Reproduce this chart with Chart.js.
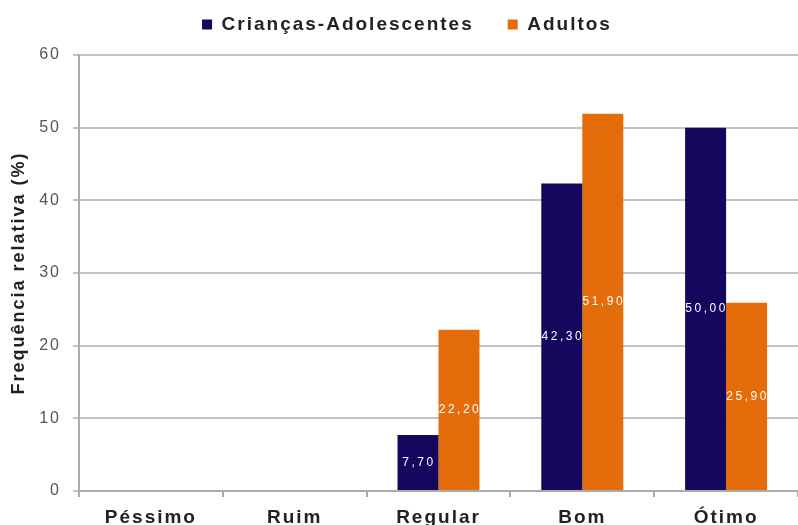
<!DOCTYPE html>
<html>
<head>
<meta charset="utf-8">
<script src="https://cdn.jsdelivr.net/npm/chart.js@4"></script>
<style>
  html, body { margin: 0; padding: 0; background: #fff; }
  #wrap { width: 798px; height: 525px; }
</style>
</head>
<body>
<div id="wrap"><canvas id="grafico" width="798" height="525"></canvas></div>
<script>
// categorias e valores (%)
const categorias = ['Péssimo', 'Ruim', 'Regular', 'Bom', 'Ótimo'];
const criancas = [0, 0, 7.7, 42.3, 50.0];
const adultos = [0, 0, 22.2, 51.9, 25.9];
const yTicks = [0, 10, 20, 30, 40, 50, 60];

const fonte = '"Liberation Sans", Arial, sans-serif';

// texto espaçado como no original; legenda com altura fixa e itens mais afastados
const espacamento = {
    id: 'espacamento',
    afterInit(chart) {
        const leg = chart.legend;
        const fitOrig = leg.fit;
        leg.fit = function() {
            fitOrig.call(this);
            this.height = 55;
        };
        const drawOrig = leg.draw;
        leg.draw = function() {
            this.ctx.save();
            this.ctx.translate(8, -19);
            drawOrig.call(this);
            this.ctx.restore();
        };
    },
    beforeUpdate(chart) { chart.ctx.letterSpacing = '2px'; },
    beforeLayout(chart) { chart.ctx.letterSpacing = '2px'; },
    beforeDraw(chart) { chart.ctx.letterSpacing = '2px'; }
};

// rótulos brancos no meio de cada barra
const rotulosBarras = {
    id: 'rotulosBarras',
    afterDatasetsDraw(chart) {
        const ctx = chart.ctx;
        ctx.save();
        ctx.letterSpacing = '2.5px';
        ctx.font = '12px ' + fonte;
        ctx.fillStyle = '#ffffff';
        ctx.textAlign = 'center';
        ctx.textBaseline = 'middle';
        chart.data.datasets.forEach((ds, i) => {
            chart.getDatasetMeta(i).data.forEach((bar, j) => {
                const v = ds.data[j];
                if (!v) return;
                const y = (bar.y + bar.base) / 2;
                ctx.fillText(v.toFixed(2).replace('.', ','), bar.x + 1, y);
            });
        });
        ctx.restore();
    }
};

const ctx = document.getElementById('grafico').getContext('2d');
new Chart(ctx, {
    type: 'bar',
    data: {
        labels: categorias,
        datasets: [
            {
                label: 'Crianças-Adolescentes',
                data: criancas,
                backgroundColor: '#13085e',
                categoryPercentage: 0.57,
                barPercentage: 1.0
            },
            {
                label: 'Adultos',
                data: adultos,
                backgroundColor: '#e46c0a',
                categoryPercentage: 0.57,
                barPercentage: 1.0
            }
        ]
    },
    options: {
        responsive: false,
        animation: false,
        layout: { padding: 0 },
        plugins: {
            tooltip: { enabled: false },
            legend: {
                position: 'top',
                labels: {
                    boxWidth: 10,
                    boxHeight: 10,
                    padding: 34,
                    color: '#222',
                    font: { family: fonte, size: 19, weight: 'bold' }
                }
            }
        },
        scales: {
            x: {
                grid: {
                    drawOnChartArea: false,
                    drawTicks: true,
                    tickLength: 6,
                    color: '#aaaaaa',
                    lineWidth: 2
                },
                border: { color: '#aaaaaa', width: 2 },
                ticks: {
                    color: '#222',
                    padding: 9,
                    font: { family: fonte, size: 19, weight: 'bold' }
                },
                afterFit(scale) { scale.height = 34; }
            },
            y: {
                min: 0,
                max: 60,
                afterBuildTicks(scale) { scale.ticks = yTicks.map(v => ({ value: v })); },
                grid: {
                    color: '#c4c4c4',
                    lineWidth: 2,
                    tickLength: 6
                },
                border: { color: '#aaaaaa', width: 2 },
                ticks: {
                    color: '#555',
                    padding: 12,
                    font: { family: fonte, size: 16 }
                },
                title: {
                    display: true,
                    text: 'Frequência relativa (%)',
                    color: '#222',
                    padding: { top: 8, bottom: 0 },
                    font: { family: fonte, size: 18, weight: 'bold' }
                },
                afterFit(scale) { scale.width = 79; }
            }
        }
    },
    plugins: [espacamento, rotulosBarras]
});
</script>
</body>
</html>
